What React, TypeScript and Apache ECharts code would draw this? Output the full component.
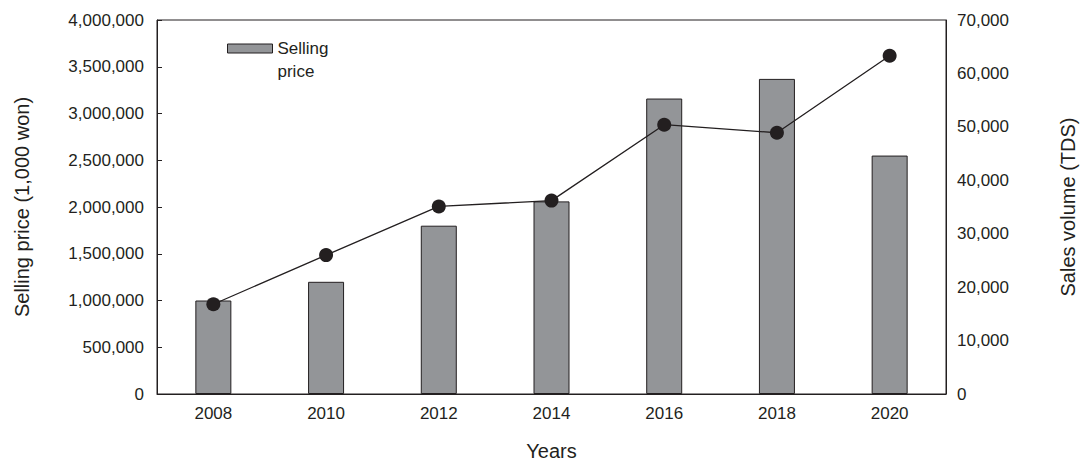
import React, { useEffect, useRef } from "react";
import * as echarts from "echarts";

const years = ["2008", "2010", "2012", "2014", "2016", "2018", "2020"];
const sellingPrice = [1000000, 1200000, 1800000, 2060000, 3160000, 3370000, 2550000];
const salesVolume = [16800, 26000, 35100, 36200, 50400, 48900, 63300];

const INK = "#231f20";
const FONT = "Liberation Sans, Arial, sans-serif";

const fmt = (v: number) => v.toLocaleString("en-US");

export default function App() {
  const ref = useRef<HTMLDivElement>(null);
  useEffect(() => {
    if (!ref.current) return;
    const chart = echarts.init(ref.current, undefined, { renderer: "svg" });
    chart.setOption({
      animation: false,
      backgroundColor: "#ffffff",
      textStyle: { fontFamily: FONT, color: INK },
      grid: {
        left: 157,
        right: 144,
        top: 20,
        bottom: 71,
        show: true,
        borderColor: INK,
        borderWidth: 1,
        backgroundColor: "transparent",
      },
      legend: {
        data: [{ name: "Selling price", icon: "rect" }],
        left: 227,
        top: 14,
        padding: 0,
        itemWidth: 45,
        itemHeight: 9,
        itemGap: 4,
        itemStyle: { borderWidth: 1, borderColor: INK },
        formatter: () => " \nSelling\nprice",
        textStyle: {
          fontFamily: FONT,
          fontSize: 17,
          color: INK,
          lineHeight: 23,
        },
      },
      xAxis: {
        type: "category",
        data: years,
        boundaryGap: true,
        name: "Years",
        nameLocation: "middle",
        nameGap: 47,
        nameTextStyle: { fontFamily: FONT, fontSize: 20, color: INK },
        axisLine: { show: true, lineStyle: { color: INK, width: 1 } },
        axisTick: { show: false },
        axisLabel: { fontFamily: FONT, fontSize: 17, color: INK, margin: 11 },
      },
      yAxis: [
        {
          type: "value",
          min: 0,
          max: 4000000,
          interval: 500000,
          name: "Selling price (1,000 won)",
          nameLocation: "middle",
          nameGap: 125,
          nameTextStyle: { fontFamily: FONT, fontSize: 20, color: INK },
          axisLine: { show: true, lineStyle: { color: INK, width: 1 } },
          axisTick: { show: true, inside: true, length: 5, lineStyle: { color: INK } },
          splitLine: { show: false },
          axisLabel: {
            fontFamily: FONT,
            fontSize: 17,
            color: INK,
            margin: 13,
            formatter: (v: number) => fmt(v),
          },
        },
        {
          type: "value",
          min: 0,
          max: 70000,
          interval: 10000,
          position: "right",
          name: "Sales volume (TDS)",
          nameLocation: "middle",
          nameGap: 112,
          nameRotate: 90,
          nameTextStyle: { fontFamily: FONT, fontSize: 20, color: INK },
          axisLine: { show: true, lineStyle: { color: INK, width: 1 } },
          axisTick: { show: false },
          splitLine: { show: false },
          axisLabel: {
            fontFamily: FONT,
            fontSize: 17,
            color: INK,
            margin: 11,
            formatter: (v: number) => fmt(v),
          },
        },
      ],
      series: [
        {
          name: "Selling price",
          type: "bar",
          yAxisIndex: 0,
          data: sellingPrice,
          barWidth: 36,
          itemStyle: { color: "#939598", borderColor: INK, borderWidth: 1 },
        },
        {
          name: "Sales volume",
          type: "line",
          yAxisIndex: 1,
          data: salesVolume,
          symbol: "circle",
          symbolSize: 14,
          lineStyle: { color: INK, width: 1.3 },
          itemStyle: { color: INK },
        },
      ],
    });
    return () => chart.dispose();
  }, []);
  return <div ref={ref} style={{ width: 1090, height: 466, margin: -8 }} />;
}
